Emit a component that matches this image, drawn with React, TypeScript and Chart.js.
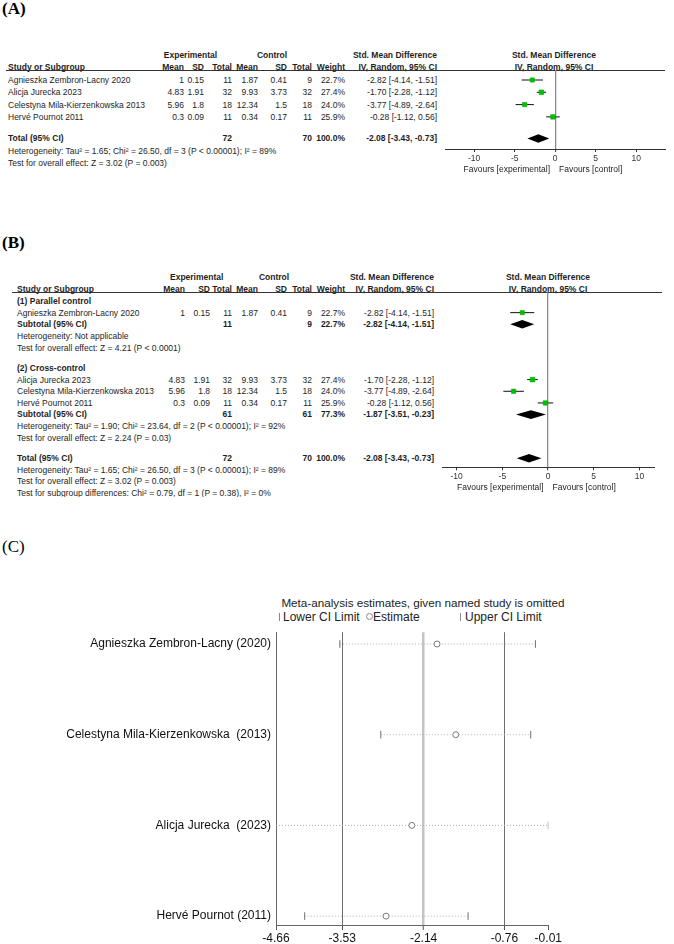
import React, { useEffect, useRef } from "react";
import { Chart, registerables } from "chart.js";
Chart.register(...registerables);

// ---------------- data ----------------
const studies = [
  "Agnieszka Zembron-Lacny 2020",
  "Alicja Jurecka 2023",
  "Celestyna Mila-Kierzenkowska 2013",
  "Hervé Pournot 2011",
];
const expMean = [1, 4.83, 5.96, 0.3];
const expSD = [0.15, 1.91, 1.8, 0.09];
const expN = [11, 32, 18, 11];
const ctlMean = [1.87, 9.93, 12.34, 0.34];
const ctlSD = [0.41, 3.73, 1.5, 0.17];
const ctlN = [9, 32, 18, 11];
const weights = [22.7, 27.4, 24.0, 25.9];
const smd = [-2.82, -1.7, -3.77, -0.28];
const smdLow = [-4.14, -2.28, -4.89, -1.12];
const smdHigh = [-1.51, -1.12, -2.64, 0.56];

// pooled results: [expN, ctlN, weight, smd, low, high]
const totalPooled = [72, 70, 100.0, -2.08, -3.43, -0.73];
const sub1Pooled = [11, 9, 22.7, -2.82, -4.14, -1.51];
const sub2Pooled = [61, 61, 77.3, -1.87, -3.51, -0.23];
const group1 = [0];
const group2 = [1, 2, 3];

const forestTicks = [-10, -5, 0, 5, 10];

const hetTotal = "Heterogeneity: Tau² = 1.65; Chi² = 26.50, df = 3 (P < 0.00001); I² = 89%";
const testTotal = "Test for overall effect: Z = 3.02 (P = 0.003)";
const het1 = "Heterogeneity: Not applicable";
const test1 = "Test for overall effect: Z = 4.21 (P < 0.0001)";
const het2 = "Heterogeneity: Tau² = 1.90; Chi² = 23.64, df = 2 (P < 0.00001); I² = 92%";
const test2 = "Test for overall effect: Z = 2.24 (P = 0.03)";
const subgroupTest = "Test for subgroup differences: Chi² = 0.79, df = 1 (P = 0.38), I² = 0%";

// sensitivity analysis (C)
const sensLabels = [
  "Agnieszka Zembron-Lacny (2020)",
  "Celestyna Mila-Kierzenkowska  (2013)",
  "Alicja Jurecka  (2023)",
  "Hervé Pournot (2011)",
];
const sensEst = [-1.91, -1.59, -2.34, -2.78];
const sensLow = [-3.57, -2.87, -4.66, -4.17];
const sensHigh = [-0.23, -0.31, -0.01, -1.38];
const sensTicks = [-4.66, -3.53, -2.14, -0.76, -0.01];
const sensOverall = [-3.53, -2.14, -0.76];

// ---------------- layout ----------------
const SANS = '"Liberation Sans", Arial, Helvetica, sans-serif';
const SERIF = '"Liberation Serif", "Times New Roman", serif';
const TXT = "#1e1e1e";
const FS = 8.5;

const A_ROW0 = 80, A_STEP = 12.3;
const B_ROW0 = 301, B_STEP = 11.65;
const ay = (k: number) => A_ROW0 + A_STEP * k;
const by = (k: number) => B_ROW0 + B_STEP * k;

const A_POS = { studies: [0, 1, 2, 3], total: 4.75, het: 5.75, test: 6.75 };
const B_POS = {
  g1: 0, g1studies: [1], sub1: 2, het1: 3, test1: 4,
  g2: 5.75, g2studies: [6.75, 7.75, 8.75], sub2: 9.75, het2: 10.75, test2: 11.75,
  total: 13.5, hetT: 14.5, testT: 15.5, sgd: 16.5,
};

type TP = {
  x: number; y: number; children: React.ReactNode; align?: "left" | "right" | "center";
  bold?: boolean; size?: number; family?: string; color?: string;
};
function T({ x, y, children, align = "left", bold = false, size = FS, family = SANS, color = TXT }: TP) {
  const lh = size * 1.2;
  const W = 500;
  const style: React.CSSProperties = {
    position: "absolute", top: y - lh / 2, height: lh, lineHeight: lh + "px",
    fontSize: size, fontFamily: family, fontWeight: bold ? 700 : 400,
    whiteSpace: "nowrap", color, textAlign: align,
  };
  if (align === "left") style.left = x;
  else if (align === "right") { style.left = x - W; style.width = W; }
  else { style.left = x - W / 2; style.width = W; }
  return <div style={style}>{children}</div>;
}

const fmtCI = (e: number, l: number, h: number) => `${e.toFixed(2)} [${l.toFixed(2)}, ${h.toFixed(2)}]`;

function HeaderRows({ y1, y2, nameX, cols, ciRight, expC, ctlC, forestC }: any) {
  const heads = ["Mean", "SD", "Total", "Mean", "SD", "Total", "Weight"];
  return (
    <>
      <T x={expC} y={y1} align="center" bold>Experimental</T>
      <T x={ctlC} y={y1} align="center" bold>Control</T>
      <T x={ciRight} y={y1} align="right" bold>Std. Mean Difference</T>
      <T x={forestC} y={y1} align="center" bold>Std. Mean Difference</T>
      <T x={nameX} y={y2} bold>Study or Subgroup</T>
      {heads.map((h, i) => <T key={i} x={cols[i]} y={y2} align="right" bold>{h}</T>)}
      <T x={ciRight} y={y2} align="right" bold>IV, Random, 95% CI</T>
      <T x={forestC} y={y2} align="center" bold>IV, Random, 95% CI</T>
    </>
  );
}

function StudyRow({ i, y, nameX, cols, ciRight }: any) {
  const vals = [expMean[i], expSD[i], expN[i], ctlMean[i], ctlSD[i], ctlN[i], weights[i].toFixed(1) + "%"];
  return (
    <>
      <T x={nameX} y={y}>{studies[i]}</T>
      {vals.map((v, j) => <T key={j} x={cols[j]} y={y} align="right">{String(v)}</T>)}
      <T x={ciRight} y={y} align="right">{fmtCI(smd[i], smdLow[i], smdHigh[i])}</T>
    </>
  );
}

function PooledRow({ label, p, y, nameX, cols, ciRight }: any) {
  return (
    <>
      <T x={nameX} y={y} bold>{label}</T>
      <T x={cols[2]} y={y} align="right" bold>{String(p[0])}</T>
      <T x={cols[5]} y={y} align="right" bold>{String(p[1])}</T>
      <T x={cols[6]} y={y} align="right" bold>{p[2].toFixed(1) + "%"}</T>
      <T x={ciRight} y={y} align="right" bold>{fmtCI(p[3], p[4], p[5])}</T>
    </>
  );
}

const diamondPlugin = {
  id: "diamonds",
  afterDatasetsDraw(chart: any, _a: any, opts: any) {
    const { ctx } = chart;
    const x = chart.scales.x, y = chart.scales.y;
    (opts.items || []).forEach((d: any) => {
      const yc = y.getPixelForValue(d.pos);
      const h = opts.half;
      ctx.save();
      ctx.beginPath();
      ctx.moveTo(x.getPixelForValue(d.lo), yc);
      ctx.lineTo(x.getPixelForValue(d.est), yc - h);
      ctx.lineTo(x.getPixelForValue(d.hi), yc);
      ctx.lineTo(x.getPixelForValue(d.est), yc + h);
      ctx.closePath();
      ctx.fillStyle = "#000";
      ctx.fill();
      ctx.restore();
    });
  },
};

function ChartBox({ left, top, width, height, build }: any) {
  const ref = useRef<HTMLCanvasElement>(null);
  useEffect(() => {
    const c = new Chart(ref.current as HTMLCanvasElement, build());
    return () => c.destroy();
  }, []);
  return (
    <canvas ref={ref} width={width} height={height}
      style={{ position: "absolute", left, top, width, height }} />
  );
}

function forestConfig(o: {
  xMin: number; xMax: number; padL: number; padR: number; padT: number; axisH: number;
  yMin: number; yMax: number; tickPad: number; studyIdx: number[]; studyPos: number[];
  diamonds: { est: number; lo: number; hi: number; pos: number }[];
}) {
  const sq = o.studyIdx.map((i, k) => ({ x: smd[i], y: o.studyPos[k] }));
  const radii = o.studyIdx.map((i) => (4.7 * Math.sqrt(weights[i] / 27.4)) / Math.SQRT2);
  const whiskers = o.studyIdx.map((i, k) => ({
    type: "line",
    data: [{ x: smdLow[i], y: o.studyPos[k] }, { x: smdHigh[i], y: o.studyPos[k] }],
    borderColor: "#111", borderWidth: 1, pointRadius: 0, order: 2,
  }));
  return {
    type: "scatter",
    data: {
      datasets: [
        {
          type: "scatter", data: sq, pointStyle: "rect", pointRadius: radii,
          pointBackgroundColor: "#00c000", pointBorderColor: "#00a800", pointBorderWidth: 0.5, order: 0,
        },
        ...whiskers,
      ],
    },
    plugins: [diamondPlugin],
    options: {
      animation: false, responsive: false, events: [],
      layout: { padding: { left: o.padL, right: o.padR, top: o.padT, bottom: 0 } },
      plugins: {
        legend: { display: false }, tooltip: { enabled: false },
        diamonds: { items: o.diamonds, half: 4.3 },
      },
      scales: {
        x: {
          type: "linear", min: o.xMin, max: o.xMax,
          afterBuildTicks: (s: any) => { s.ticks = forestTicks.map((v) => ({ value: v })); },
          afterFit: (s: any) => { s.height = o.axisH; },
          ticks: {
            autoSkip: false, maxRotation: 0, minRotation: 0, padding: o.tickPad,
            font: { family: SANS, size: FS }, color: "#333", callback: (v: any) => String(v),
          },
          grid: {
            drawOnChartArea: true,
            color: (c: any) => (c.tick && c.tick.value === 0 ? "#8c8c8c" : "rgba(0,0,0,0)"),
            lineWidth: (c: any) => (c.tick && c.tick.value === 0 ? 1.3 : 1),
            tickColor: "#333", tickLength: 3, tickWidth: 1,
          },
          border: { display: true, color: "#333", width: 1 },
        },
        y: { type: "linear", display: false, reverse: true, min: o.yMin, max: o.yMax },
      },
    },
  };
}

function sensConfig() {
  const dotted = sensLabels.map((_, i) => ({
    type: "line", data: [{ x: sensLow[i], y: i }, { x: sensHigh[i], y: i }],
    borderColor: "#b0b0b0", borderWidth: 1, borderDash: [1, 2], pointRadius: 0, order: 3,
  }));
  const bar = (vals: number[]) => ({
    type: "scatter", data: vals.map((v, i) => ({ x: v, y: i })),
    pointStyle: "line", pointRotation: 90, pointRadius: 3.8,
    pointBorderColor: "#707070", pointBorderWidth: 1, order: 1,
  });
  const isOverall = (v: number) => sensOverall.indexOf(v) >= 0;
  return {
    type: "scatter",
    data: {
      datasets: [
        {
          type: "scatter", data: sensEst.map((v, i) => ({ x: v, y: i })),
          pointStyle: "circle", pointRadius: 3, pointBackgroundColor: "#fff",
          pointBorderColor: "#7a7a7a", pointBorderWidth: 1, order: 0,
        },
        bar(sensLow), bar(sensHigh), ...dotted,
      ],
    },
    options: {
      animation: false, responsive: false, events: [],
      layout: { padding: { left: 0, right: 674 - 548.3, top: 8, bottom: 0 } },
      plugins: { legend: { display: false }, tooltip: { enabled: false } },
      scales: {
        x: {
          type: "linear", min: sensTicks[0], max: sensTicks[sensTicks.length - 1],
          afterBuildTicks: (s: any) => { s.ticks = sensTicks.map((v) => ({ value: v })); },
          afterFit: (s: any) => { s.height = 19; },
          ticks: {
            autoSkip: false, maxRotation: 0, minRotation: 0, padding: 1,
            font: { family: SANS, size: 12 }, color: "#111",
            callback: (v: any) => Number(v).toFixed(2),
          },
          grid: {
            drawOnChartArea: true,
            color: (c: any) => {
              const v = c.tick ? c.tick.value : NaN;
              if (v === sensOverall[1]) return "#c4c4c4";
              if (isOverall(v)) return "#6e6e6e";
              return "rgba(0,0,0,0)";
            },
            lineWidth: (c: any) => (c.tick && c.tick.value === sensOverall[1] ? 2.5 : 1),
            tickColor: "#555", tickLength: 5, tickWidth: 1,
          },
          border: { display: true, color: "#666", width: 1 },
        },
        y: {
          type: "linear", reverse: true, min: -0.13, max: 3.098,
          afterBuildTicks: (s: any) => { s.ticks = sensLabels.map((_, i) => ({ value: i })); },
          afterFit: (s: any) => { s.width = 276; },
          ticks: {
            autoSkip: false, padding: 5, font: { family: SANS, size: 12 }, color: "#111",
            callback: (v: any) => sensLabels[v],
          },
          grid: { display: false, drawTicks: false },
          border: { display: true, color: "#666", width: 1 },
        },
      },
    },
  };
}

export default function App() {
  const colsA = [184, 204, 232, 258, 287, 312, 345];
  const ciA = 437;
  const nameA = 8;
  const colsB = [185, 210, 232, 258, 287, 312, 345];
  const ciB = 434;
  const nameB = 17;

  const aYMin = (70 - A_ROW0) / A_STEP, aYMax = (149 - A_ROW0) / A_STEP;
  const bYMin = (292.3 - B_ROW0) / B_STEP, bYMax = (467.3 - B_ROW0) / B_STEP;

  return (
    <div style={{ position: "absolute", left: 0, top: 0, width: 674, height: 944, overflow: "hidden", background: "#fff" }}>
      {/* ---------- (A) ---------- */}
      <T x={2} y={9} bold size={17} family={SERIF} color="#000">(A)</T>
      <HeaderRows y1={55} y2={67} nameX={nameA} cols={colsA} ciRight={ciA} expC={190.5} ctlC={272} forestC={554} />
      <div style={{ position: "absolute", left: 6, top: 70, width: 659, height: 1, background: "#333" }} />
      {A_POS.studies.map((k, i) => <StudyRow key={i} i={i} y={ay(k)} nameX={nameA} cols={colsA} ciRight={ciA} />)}
      <PooledRow label="Total (95% CI)" p={totalPooled} y={ay(A_POS.total)} nameX={nameA} cols={colsA} ciRight={ciA} />
      <T x={nameA} y={ay(A_POS.het)}>{hetTotal}</T>
      <T x={nameA} y={ay(A_POS.test)}>{testTotal}</T>
      <ChartBox left={440} top={62} width={234} height={120} build={() => forestConfig({
        xMin: -13.6, xMax: 13.55, padL: 5, padR: 9, padT: 8, axisH: 120 - 8 - 79,
        yMin: aYMin, yMax: aYMax, tickPad: 2,
        studyIdx: [0, 1, 2, 3], studyPos: A_POS.studies,
        diamonds: [{ est: totalPooled[3], lo: totalPooled[4], hi: totalPooled[5], pos: A_POS.total }],
      })} />
      <T x={550} y={169.5} align="right">Favours [experimental]</T>
      <T x={559} y={169.5}>Favours [control]</T>

      {/* ---------- (B) ---------- */}
      <T x={2} y={243} bold size={17} family={SERIF} color="#000">(B)</T>
      <HeaderRows y1={276.7} y2={289} nameX={nameB} cols={colsB} ciRight={ciB} expC={196.7} ctlC={274} forestC={548} />
      <div style={{ position: "absolute", left: 12, top: 292, width: 650, height: 1, background: "#333" }} />
      <T x={nameB} y={by(B_POS.g1)} bold>(1) Parallel control</T>
      {group1.map((i, k) => <StudyRow key={i} i={i} y={by(B_POS.g1studies[k])} nameX={nameB} cols={colsB} ciRight={ciB} />)}
      <PooledRow label="Subtotal (95% CI)" p={sub1Pooled} y={by(B_POS.sub1)} nameX={nameB} cols={colsB} ciRight={ciB} />
      <T x={nameB} y={by(B_POS.het1)}>{het1}</T>
      <T x={nameB} y={by(B_POS.test1)}>{test1}</T>
      <T x={nameB} y={by(B_POS.g2)} bold>(2) Cross-control</T>
      {group2.map((i, k) => <StudyRow key={i} i={i} y={by(B_POS.g2studies[k])} nameX={nameB} cols={colsB} ciRight={ciB} />)}
      <PooledRow label="Subtotal (95% CI)" p={sub2Pooled} y={by(B_POS.sub2)} nameX={nameB} cols={colsB} ciRight={ciB} />
      <T x={nameB} y={by(B_POS.het2)}>{het2}</T>
      <T x={nameB} y={by(B_POS.test2)}>{test2}</T>
      <PooledRow label="Total (95% CI)" p={totalPooled} y={by(B_POS.total)} nameX={nameB} cols={colsB} ciRight={ciB} />
      <T x={nameB} y={by(B_POS.hetT)}>{hetTotal}</T>
      <T x={nameB} y={by(B_POS.testT)}>{testTotal}</T>
      <div style={{ position: "absolute", left: 0, top: 487, width: 674, height: 9.5, overflow: "hidden" }}>
        <div style={{ position: "absolute", left: 0, top: -487, width: 674, height: 600 }}>
          <T x={nameB} y={by(B_POS.sgd)}>{subgroupTest}</T>
        </div>
      </div>
      <ChartBox left={436} top={284} width={238} height={210} build={() => forestConfig({
        xMin: -11.53, xMax: 11.6, padL: 6.7, padR: 20, padT: 8.3, axisH: 210 - 8.3 - 175,
        yMin: bYMin, yMax: bYMax, tickPad: 1,
        studyIdx: [...group1, ...group2], studyPos: [...B_POS.g1studies, ...B_POS.g2studies],
        diamonds: [
          { est: sub1Pooled[3], lo: sub1Pooled[4], hi: sub1Pooled[5], pos: B_POS.sub1 },
          { est: sub2Pooled[3], lo: sub2Pooled[4], hi: sub2Pooled[5], pos: B_POS.sub2 },
          { est: totalPooled[3], lo: totalPooled[4], hi: totalPooled[5], pos: B_POS.total },
        ],
      })} />
      <T x={543.5} y={486.7} align="right">Favours [experimental]</T>
      <T x={552.5} y={486.7}>Favours [control]</T>

      {/* ---------- (C) ---------- */}
      <T x={2} y={547} size={17} family={SERIF} color="#000">(C)</T>
      <T x={423} y={602.7} align="center" size={11.7} color="#222">Meta-analysis estimates, given named study is omitted</T>
      <div style={{ position: "absolute", left: 279, top: 613, width: 1, height: 8, background: "#888" }} />
      <T x={283} y={616.7} size={12} color="#222">Lower CI Limit</T>
      <div style={{ position: "absolute", left: 365.5, top: 613.2, width: 5, height: 5, border: "1px solid #888", borderRadius: "50%" }} />
      <T x={373} y={616.7} size={12} color="#222">Estimate</T>
      <div style={{ position: "absolute", left: 460, top: 613, width: 1, height: 8, background: "#888" }} />
      <T x={465} y={616.7} size={12} color="#222">Upper CI Limit</T>
      <ChartBox left={0} top={620} width={674} height={324} build={sensConfig} />
    </div>
  );
}
